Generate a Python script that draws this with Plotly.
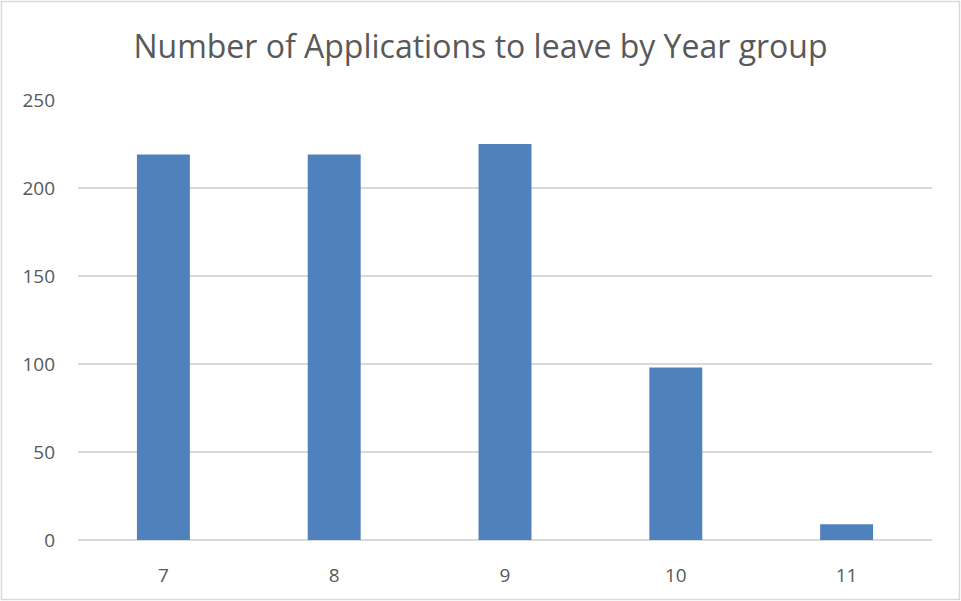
import plotly.graph_objects as go

years = ["7", "8", "9", "10", "11"]
applications = [219, 219, 225, 98, 9]
y_ticks = [0, 50, 100, 150, 200, 250]

W, H = 961, 601
ml, mr, mt, mb = 78, 29, 100, 61
pw, ph = W - ml - mr, H - mt - mb

fig = go.Figure(go.Bar(
    x=years, y=applications,
    marker=dict(color="#4f81bd", line=dict(color="#4f81bd", width=0)),
))

fig.update_layout(
    width=W, height=H,
    margin=dict(l=ml, r=mr, t=mt, b=mb),
    paper_bgcolor="white", plot_bgcolor="white",
    bargap=0.69,
    showlegend=False,
    title=dict(text="Number of Applications to leave by Year group",
               x=0.5, xanchor="center", y=1 - 47 / H, yanchor="middle",
               font=dict(family="Open Sans", size=32, color="#595959")),
    font=dict(family="Open Sans", size=19, color="#595959"),
    xaxis=dict(showgrid=False, showline=False, zeroline=False, ticks="",
               ticklabelstandoff=22, tickfont=dict(size=19, color="#595959")),
    yaxis=dict(range=[0, 250], tickvals=y_ticks, showgrid=True, gridcolor="#d9d9d9",
               gridwidth=1.5, zeroline=True, zerolinecolor="#d9d9d9", zerolinewidth=1.5,
               showline=False, ticks="", ticklabelstandoff=22,
               tickfont=dict(size=19, color="#595959")),
    shapes=[dict(type="rect", xref="paper", yref="paper",
                 x0=(1.5 - ml) / pw, x1=(W - 1.5 - ml) / pw,
                 y0=-(mb - 1.5) / ph, y1=1 + (mt - 1.5) / ph,
                 line=dict(color="#d9d9d9", width=1.5), layer="below")],
)

fig.write_html("out.html", config={"displayModeBar": False},
               post_script="document.body.style.margin='0';document.body.style.overflow='hidden';")
